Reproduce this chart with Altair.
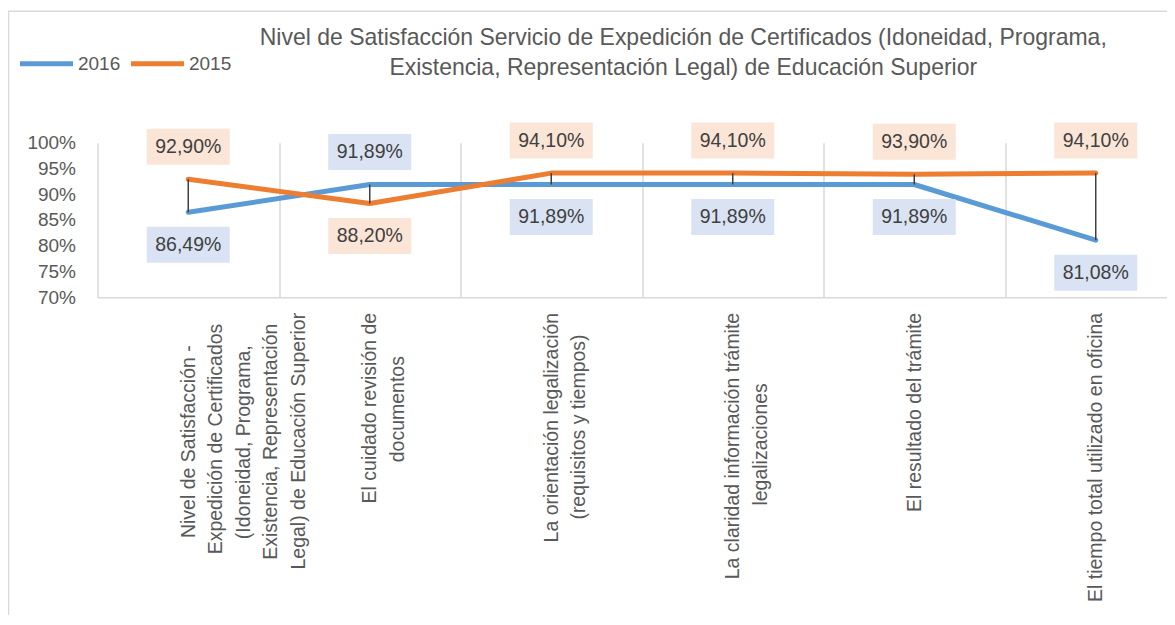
import altair as alt
import pandas as pd

categories = [
    "Nivel de Satisfacción -|Expedición de Certificados|(Idoneidad, Programa,|Existencia, Representación|Legal) de Educación Superior",
    "El cuidado revisión de|documentos",
    "La orientación legalización|(requisitos y tiempos)",
    "La claridad información trámite|legalizaciones",
    "El resultado del trámite",
    "El tiempo total utilizado en oficina",
]
values_2016 = [86.49, 91.89, 91.89, 91.89, 91.89, 81.08]
values_2015 = [92.90, 88.20, 94.10, 94.10, 93.90, 94.10]
series = ["2016", "2015"]
y_ticks = [70, 75, 80, 85, 90, 95, 100]
title_lines = [
    "Nivel de Satisfacción Servicio de Expedición de Certificados (Idoneidad, Programa,",
    "Existencia, Representación Legal) de Educación Superior",
]

# Arial / Liberation Sans advance widths (1/1000 em), used to centre the
# lines of each multi-line category label the way the original does.
_W = {" ": 278, "(": 333, ")": 333, ",": 278, "-": 333, ".": 278,
      "a": 556, "b": 556, "c": 500, "d": 556, "e": 556, "f": 278, "g": 556,
      "h": 556, "i": 222, "j": 222, "k": 500, "l": 222, "m": 833, "n": 556,
      "o": 556, "p": 556, "q": 556, "r": 333, "s": 500, "t": 278, "u": 556,
      "v": 500, "w": 722, "x": 500, "y": 500, "z": 500, "á": 556, "é": 556,
      "í": 278, "ó": 556, "ú": 556, "ñ": 556, "E": 667, "L": 556, "N": 722,
      "C": 722, "I": 278, "P": 667, "S": 667, "R": 722}


def _tw(s):
    return sum(_W.get(ch, 556) for ch in s)


def centred(label):
    parts = label.split("|")
    mx = max(_tw(p) for p in parts)
    out = []
    for p in parts:
        n = int(round((mx - _tw(p)) / 2 / 278))
        out.append(p + ("\u00a0" * n + "\u200b" if n > 0 else ""))
    return "|".join(out)


cat_labels = [centred(c) for c in categories]

rows = []
for s, vals in zip(series, [values_2016, values_2015]):
    for c, v in zip(cat_labels, vals):
        rows.append({"cat": c, "serie": s, "v": v})
long_df = pd.DataFrame(rows)
wide_df = pd.DataFrame({"cat": cat_labels, "v2016": values_2016, "v2015": values_2015})

FONT = "Liberation Sans, Arial, sans-serif"
W = 1069.5
H = 154.6
TXT = "#595959"


def x_enc():
    return alt.X(
        "cat:N",
        sort=cat_labels,
        scale=alt.Scale(range=[0, 1089], paddingInner=0, paddingOuter=0),
        axis=alt.Axis(
            title=None, labelAngle=270, labelExpr="split(datum.label, '|')",
            labelFontSize=19.5, labelLineHeight=27.5, labelColor=TXT, labelFont=FONT,
            labelPadding=15, labelLimit=500, labelOverlap=False, ticks=False,
            grid=True, gridColor="#D9D9D9", gridWidth=1.5, tickBand="extent",
            domainColor="#D9D9D9", domainWidth=1.5,
        ),
    )


def y_enc(field):
    return alt.Y(
        field,
        title=None,
        scale=alt.Scale(domain=[70, 100], nice=False, zero=False),
        axis=alt.Axis(
            values=y_ticks, labelExpr="datum.value + '%'", title=None, domain=False,
            ticks=False, grid=False, labelFontSize=19, labelColor=TXT,
            labelPadding=22, labelFont=FONT, labelOverlap=False,
        ),
    )


border = alt.Chart(pd.DataFrame({"a": [0]})).mark_rect(
    fillOpacity=0, stroke="#D9D9D9", strokeWidth=1.5
).encode(
    x=alt.value(-89), x2=alt.value(1300), y=alt.value(-131.5), y2=alt.value(700)
)

lines = alt.Chart(long_df).mark_line(
    strokeWidth=5, strokeCap="round", strokeJoin="round"
).encode(
    x=x_enc(),
    y=y_enc("v:Q"),
    color=alt.Color(
        "serie:N",
        sort=series,
        scale=alt.Scale(domain=series, range=["#5B9BD5", "#ED7D31"]),
        legend=alt.Legend(
            title=None, orient="none", legendX=-80, legendY=-108,
            direction="horizontal", symbolType="stroke", symbolSize=2809,
            symbolStrokeWidth=5, labelFontSize=19, labelColor=TXT,
            labelFont=FONT, labelOffset=2.5, columnPadding=0, padding=0,
        ),
    ),
    order=alt.Order("serie:N", sort="descending"),
)

rules = alt.Chart(wide_df).mark_rule(color="#404040", strokeWidth=1.5).encode(
    x=x_enc(),
    y=y_enc("v2016:Q"),
    y2="v2015:Q",
)

lbl_base = alt.Chart(long_df).transform_joinaggregate(
    vmax="max(v)", groupby=["cat"]
).transform_calculate(
    lbl="replace(format(datum.v, '.2f'), '.', ',') + '%'"
)
fill_enc = alt.Fill(
    "serie:N", scale=alt.Scale(domain=series, range=["#DAE3F3", "#FBE5D6"]), legend=None
)


def label_layers(cond, off):
    b = lbl_base.transform_filter(cond)
    box = b.mark_rect(width=83, height=36, yOffset=off).encode(
        x=x_enc(), y=y_enc("v:Q"), fill=fill_enc
    )
    txt = b.mark_text(
        dy=off, fontSize=19.5, font=FONT, color="#404040", align="center", baseline="middle"
    ).encode(x=x_enc(), y=y_enc("v:Q"), text="lbl:N")
    return [box, txt]


top_layers = label_layers("datum.v == datum.vmax", -32.5)
bot_layers = label_layers("datum.v < datum.vmax", 32.5)

chart = alt.layer(
    border, lines, rules, *top_layers, *bot_layers
).properties(
    width=W,
    height=H,
    autosize=alt.AutoSizeParams(type="none"),
    padding={"left": 89.5, "top": 134.7, "right": 0, "bottom": 318},
    title=alt.Title(
        text=title_lines, fontSize=23, font=FONT, color=TXT, fontWeight="normal",
        anchor="middle", dx=51, offset=0, dy=70, lineHeight=30, frame="group",
    ),
).configure_view(stroke="transparent")

chart.save("out.html", embed_options={"renderer": "svg", "actions": False})
